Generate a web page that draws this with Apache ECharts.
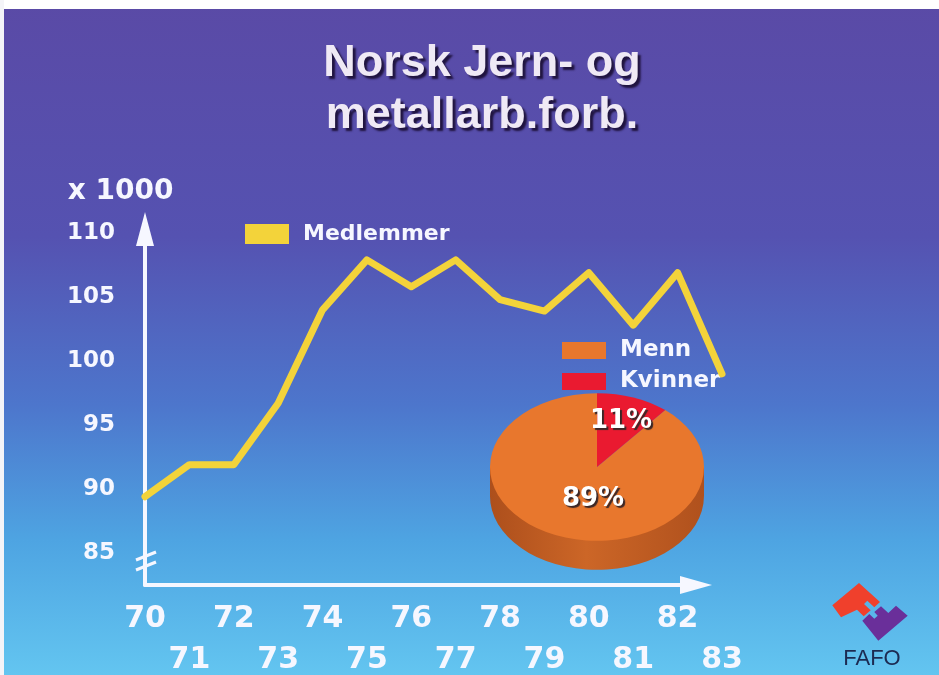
<!DOCTYPE html>
<html>
<head>
<meta charset="utf-8">
<script src="https://cdn.jsdelivr.net/npm/echarts@6/dist/echarts.min.js"></script>
<style>
  html, body { margin: 0; padding: 0; background: #ffffff; }
  #chart { width: 939px; height: 675px; }
</style>
</head>
<body>
<div id="chart"></div>
<script>
// ---- data ----
const years = ['70', '71', '72', '73', '74', '75', '76', '77', '78', '79', '80', '81', '82', '83'];
const members = [89.4, 91.9, 91.9, 96.7, 104.0, 107.9, 105.8, 107.9, 104.8, 103.9, 106.9, 102.8, 106.9, 99.0];
const yTicks = [85, 90, 95, 100, 105, 110];
const sliceNames = ['Kvinner', 'Menn'];      // clockwise from 12 o'clock
const sliceValues = [11, 89];
const legendPieOrder = ['Menn', 'Kvinner'];

// ---- styling / layout ----
const sliceColors = ['#ea1a30', '#e8772d'];
const PIE = { cx: 597, cy: 467, r: 107, sy: 0.69, depth: 29 };
const SIDE_SLICE = 1;
const LABEL_OFFSETS = [[24, -46], [-4, 32]];
const WHITE = '#f6f7ff';

function sliceRenderer(k) {
  return function (params, api) {
    const total = sliceValues.reduce((s, v) => s + v, 0);
    const before = sliceValues.slice(0, k).reduce((s, v) => s + v, 0);
    const v = api.value(0);
    const a0 = -Math.PI / 2 + 2 * Math.PI * before / total;
    const a1 = a0 + 2 * Math.PI * v / total;
    const cx = PIE.cx, cy = PIE.cy, r = PIE.r;
    const d = PIE.depth / PIE.sy;
    const face = [];
    if (k === SIDE_SLICE) {
      const sideFill = new echarts.graphic.LinearGradient(0, 0, 1, 0, [
        { offset: 0, color: '#ad4f1c' },
        { offset: 0.45, color: '#cc6627' },
        { offset: 1, color: '#b0511d' }
      ]);
      face.push({ type: 'sector', shape: { cx: cx, cy: cy + d, r0: 0, r: r, startAngle: a0, endAngle: a1, clockwise: true }, style: { fill: sideFill } });
      face.push({ type: 'rect', shape: { x: cx - r, y: cy, width: 2 * r, height: d }, style: { fill: sideFill } });
    }
    face.push({ type: 'sector', shape: { cx: cx, cy: cy, r0: 0, r: r, startAngle: a0, endAngle: a1, clockwise: true },
      style: { fill: api.visual('color') } });
    const off = LABEL_OFFSETS[k];
    return {
      type: 'group',
      children: [
        { type: 'group', originX: cx, originY: cy, scaleY: PIE.sy, children: face },
        { type: 'text', x: cx + off[0], y: cy + off[1],
          style: { text: Math.round(100 * v / total) + '%', fill: '#ffffff',
            font: 'bold 26px "DejaVu Sans"', align: 'center', verticalAlign: 'middle',
            textShadowColor: '#3a2626', textShadowOffsetX: 2, textShadowOffsetY: 2, textShadowBlur: 1 } }
      ]
    };
  };
}

const chart = echarts.init(document.getElementById('chart'), null, { renderer: 'canvas' });

const pieSeries = sliceNames.map((name, k) => ({
  type: 'custom',
  name: name,
  coordinateSystem: 'none',
  data: [sliceValues[k]],
  renderItem: sliceRenderer(k),
  itemStyle: { color: sliceColors[k] },
  z: k === SIDE_SLICE ? 3 : 4,
  silent: true
}));

const option = {
  animation: false,
  backgroundColor: {
    type: 'linear', x: 0, y: 0, x2: 0, y2: 1,
    colorStops: [
      { offset: 0, color: '#5a4aa6' },
      { offset: 0.35, color: '#5552b1' },
      { offset: 0.6, color: '#4d76cc' },
      { offset: 0.8, color: '#4ea4e2' },
      { offset: 1, color: '#63c5f0' }
    ]
  },
  textStyle: { fontFamily: 'DejaVu Sans' },
  graphic: [
    { type: 'rect', shape: { x: 0, y: 0, width: 939, height: 9 }, style: { fill: '#ffffff' }, silent: true },
    { type: 'rect', shape: { x: 0, y: 0, width: 4, height: 675 }, style: { fill: '#f4f4f8' }, silent: true },
    { type: 'text', x: 482, y: 38, silent: true,
      style: { text: 'Norsk Jern- og\nmetallarb.forb.', fill: '#efe9f5',
        font: 'bold 45px "Liberation Sans"', align: 'center', verticalAlign: 'top', lineHeight: 52,
        textShadowColor: '#20143f', textShadowOffsetX: 3, textShadowOffsetY: 3, textShadowBlur: 2 } },
    { type: 'line', shape: { x1: 136, y1: 560, x2: 156, y2: 552 }, style: { stroke: WHITE, lineWidth: 3 }, silent: true },
    { type: 'line', shape: { x1: 136, y1: 570, x2: 156, y2: 562 }, style: { stroke: WHITE, lineWidth: 3 }, silent: true },
    // FAFO logo
    { type: 'polygon', silent: true,
      shape: { points: [[832.3, 605.3], [859, 583], [880, 602], [874.3, 607.3], [867.3, 600.7], [864, 604], [870.7, 610.3], [863.7, 616.3], [857, 609.7], [841, 617.3]] },
      style: { fill: '#f0402c' } },
    { type: 'polygon', silent: true,
      shape: { points: [[862.3, 620.7], [869.3, 614], [874.3, 618.7], [877.7, 615.7], [874.3, 612], [881, 606.3], [888.3, 613], [896, 605.7], [907.7, 615.7], [878.3, 640.7]] },
      style: { fill: '#6a2f9a' } },
    { type: 'text', x: 872, y: 659, silent: true,
      style: { text: 'FAFO', fill: '#1c2b52', font: '22px "Liberation Sans"', align: 'center', verticalAlign: 'middle' } }
  ],
  legend: [
    {
      data: ['Medlemmer'], left: 240, top: 218, icon: 'rect', itemWidth: 44, itemHeight: 20,
      selectedMode: false,
      textStyle: { color: WHITE, fontSize: 22, fontWeight: 'bold', fontFamily: 'DejaVu Sans', padding: [0, 0, 0, 9] }
    },
    {
      data: legendPieOrder, orient: 'vertical', left: 557, top: 334, icon: 'rect', itemWidth: 44, itemHeight: 17,
      itemGap: 8, selectedMode: false,
      textStyle: { color: WHITE, fontSize: 23, fontWeight: 'bold', fontFamily: 'DejaVu Sans', padding: [0, 0, 0, 9] }
    }
  ],
  grid: [
    { left: 145, right: 217, top: 229, bottom: 90, containLabel: false, outerBoundsMode: 'none' },
    { left: 145, right: 243, top: 229, bottom: 90, containLabel: false, outerBoundsMode: 'none' }
  ],
  xAxis: [
    {
      type: 'category', gridIndex: 0, data: years, boundaryGap: false,
      axisLine: { show: false }, axisTick: { show: false }, splitLine: { show: false },
      axisLabel: {
        interval: 0, margin: 14, color: WHITE, fontSize: 30, fontWeight: 'bold', fontFamily: 'DejaVu Sans',
        lineHeight: 41,
        formatter: (val, idx) => (idx % 2 ? '\n' + val : val)
      }
    },
    {
      type: 'value', gridIndex: 1, min: 0, max: 1,
      axisLine: { show: true, symbol: ['none', 'triangle'], symbolSize: [18, 32], lineStyle: { color: WHITE, width: 4 } },
      axisTick: { show: false }, axisLabel: { show: false }, splitLine: { show: false }
    }
  ],
  yAxis: [
    {
      type: 'value', gridIndex: 0, min: 82.5, max: 110.3125,
      name: 'x 1000', nameLocation: 'end', nameGap: 23,
      nameTextStyle: { color: WHITE, fontSize: 28, fontWeight: 'bold', fontFamily: 'DejaVu Sans', padding: [0, 49, 0, 0] },
      axisLine: { show: true, symbol: ['none', 'triangle'], symbolSize: [18, 34], lineStyle: { color: WHITE, width: 4 } },
      axisTick: { show: false }, splitLine: { show: false },
      axisLabel: { customValues: yTicks, margin: 30, color: WHITE, fontSize: 23, fontWeight: 'bold', fontFamily: 'DejaVu Sans' }
    },
    { type: 'value', gridIndex: 1, show: false, min: 0, max: 1 }
  ],
  series: [
    {
      type: 'line', name: 'Medlemmer', data: members, xAxisIndex: 0, yAxisIndex: 0,
      symbol: 'none', z: 5,
      lineStyle: { color: '#f3d33a', width: 7, cap: 'round', join: 'round' },
      itemStyle: { color: '#f3d33a' }
    }
  ].concat(pieSeries)
};

chart.setOption(option);
</script>
</body>
</html>
